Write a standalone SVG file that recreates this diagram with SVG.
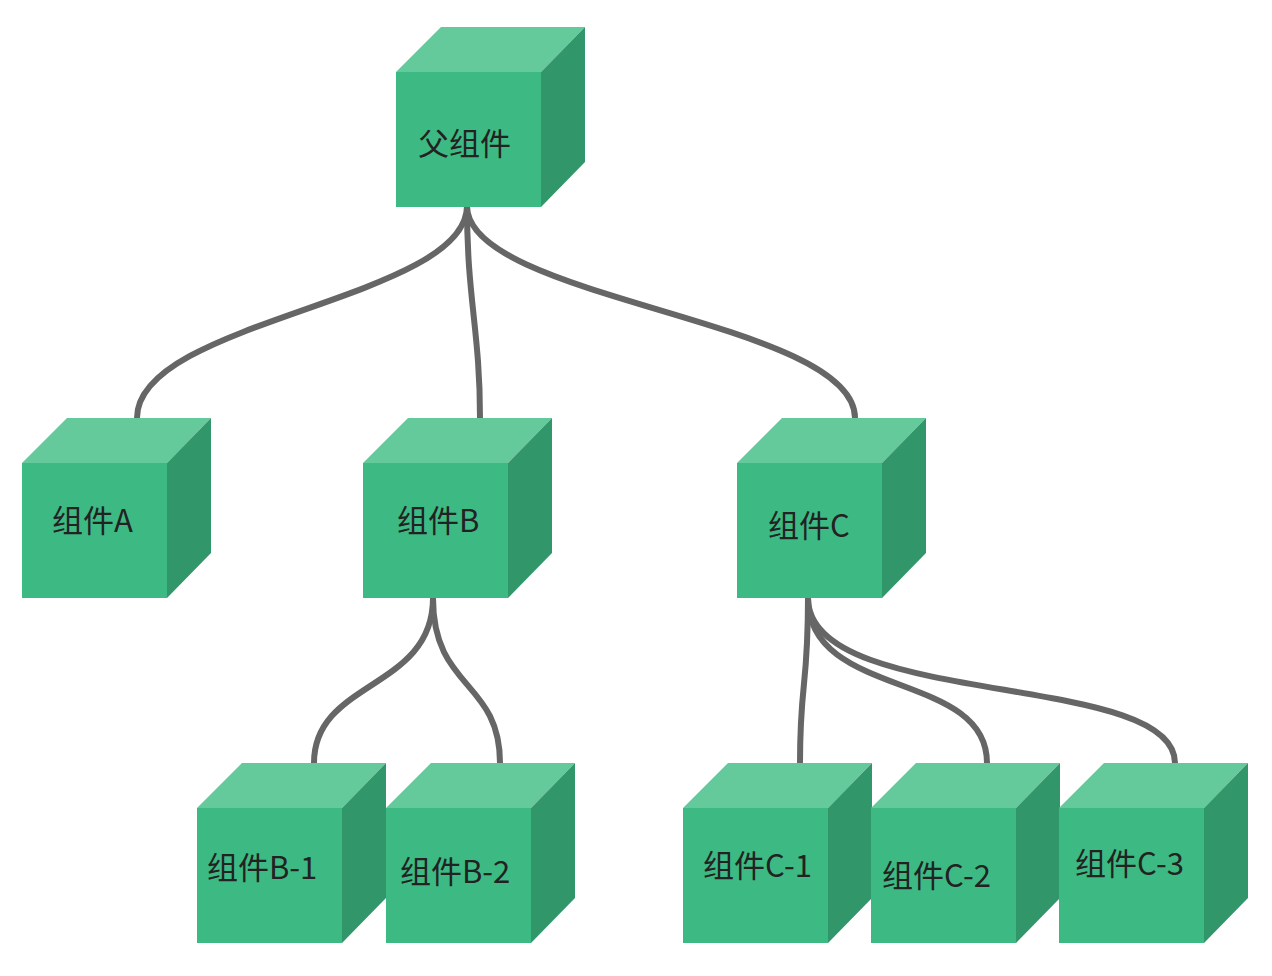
<svg xmlns="http://www.w3.org/2000/svg" width="1272" height="976" viewBox="0 0 1272 976">
<defs>
<style>
.front{fill:#3dba83;}
.top{fill:#64c99b;}
.side{fill:#31966a;}
.lbl{font-family:"Noto Sans CJK SC","Liberation Sans",sans-serif;font-size:31px;fill:#222;}
.conn{fill:none;stroke:#666;stroke-width:6;stroke-linecap:butt;}
</style>
<g id="cube">
<rect class="front" x="0" y="0" width="145" height="135"/>
<polygon class="top" points="0,0 45,-45 189,-45 145,0"/>
<polygon class="side" points="145,0 189,-45 189,90 145,135"/>
</g>
</defs>
<rect width="1272" height="976" fill="#fff"/>
<g id="connectors">
<path class="conn" d="M467,206 C467,300 137,320 137,418"/>
<path class="conn" d="M467,206 C467,300 480,330 480,418"/>
<path class="conn" d="M467,206 C467,300 855,320 855,418"/>
<path class="conn" d="M433,598 C433,690 314,680 314,763"/>
<path class="conn" d="M433,598 C433,690 500,680 500,763"/>
<path class="conn" d="M808,598 C808,690 800,680 800,763"/>
<path class="conn" d="M808,598 C808,700 987,670 987,763"/>
<path class="conn" d="M808,598 C808,710 1175,670 1175,763"/>
</g>
<g id="parent"><use href="#cube" x="396" y="72"/><text class="lbl" x="418" y="155">父组件</text></g>
<g id="compA"><use href="#cube" x="22" y="463"/><text class="lbl" x="52" y="532">组件A</text></g>
<g id="compB"><use href="#cube" x="363" y="463"/><text class="lbl" x="397" y="532">组件B</text></g>
<g id="compC"><use href="#cube" x="737" y="463"/><text class="lbl" x="768" y="537">组件C</text></g>
<g id="compB1"><use href="#cube" x="197" y="808"/><text class="lbl" x="207" y="879">组件B-1</text></g>
<g id="compB2"><use href="#cube" x="386" y="808"/><text class="lbl" x="400" y="883">组件B-2</text></g>
<g id="compC1"><use href="#cube" x="683" y="808"/><text class="lbl" x="703" y="877">组件C-1</text></g>
<g id="compC2"><use href="#cube" x="871" y="808"/><text class="lbl" x="882" y="887">组件C-2</text></g>
<g id="compC3"><use href="#cube" x="1059" y="808"/><text class="lbl" x="1075" y="875">组件C-3</text></g>
</svg>
